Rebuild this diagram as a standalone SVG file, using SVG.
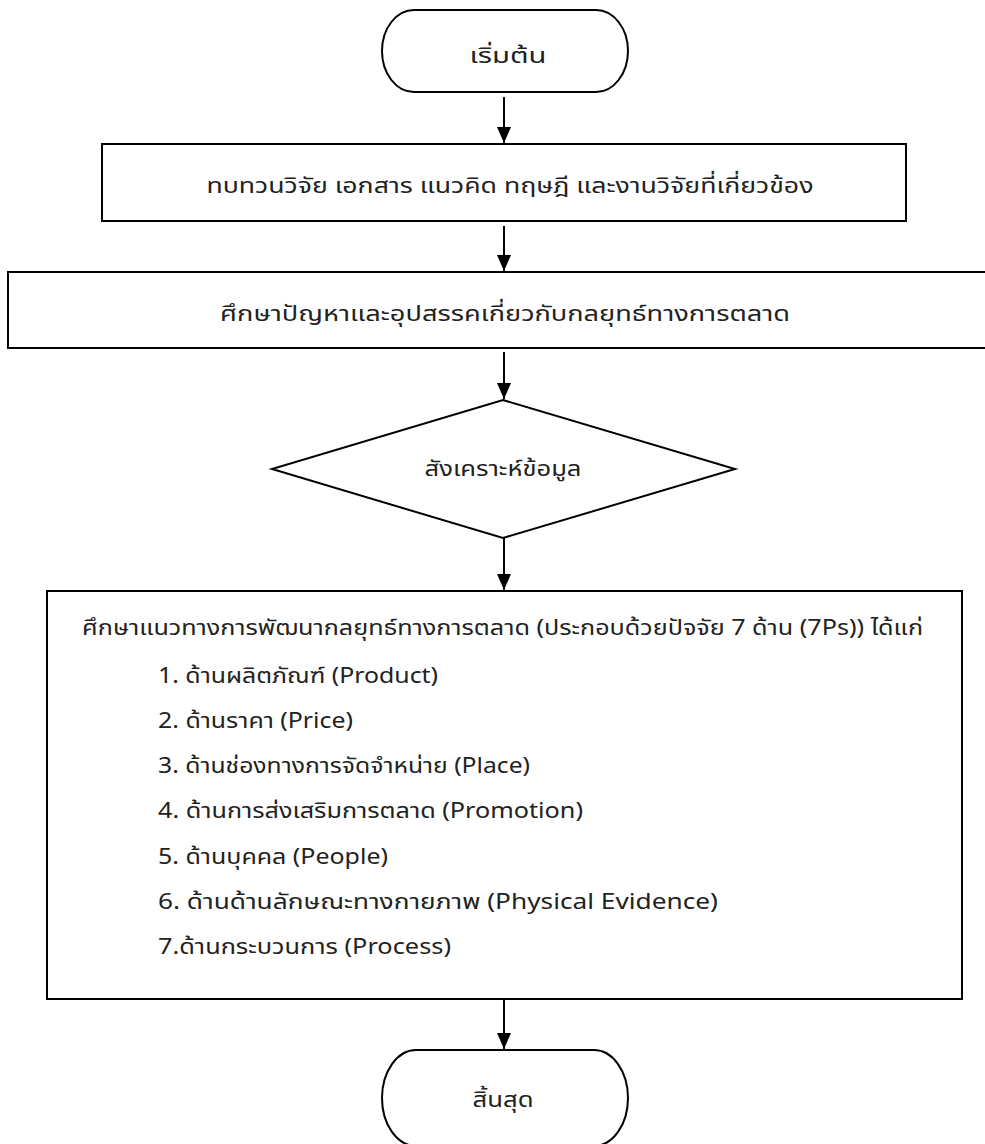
<svg xmlns="http://www.w3.org/2000/svg" width="985" height="1144" viewBox="0 0 985 1144">
<defs>
<marker id="arr" markerWidth="16" markerHeight="14" refX="16" refY="7" orient="auto" markerUnits="userSpaceOnUse" viewBox="0 0 16 14">
<path d="M0,0 L16,7 L0,14 Z" fill="#000"/>
</marker>
</defs>
<style>
.s{fill:#fff;stroke:#000;stroke-width:2}
.t{font-family:"Noto Sans Thai","Leelawadee UI","Tahoma","DejaVu Sans","Noto Sans",sans-serif;font-size:22px;fill:#222}
.c{text-anchor:middle}
.e{stroke:#000;stroke-width:2;fill:none}
</style>
<rect width="985" height="1144" fill="#fff"/>
<g id="start">
<rect class="s" x="382" y="10" width="246" height="82" rx="32" ry="41"/>
<text class="t c" x="508" y="63" textLength="77" lengthAdjust="spacingAndGlyphs">เริ่มต้น</text>
</g>
<g id="review">
<rect class="s" x="102" y="144" width="804" height="77"/>
<text class="t c" x="510" y="193" textLength="607" lengthAdjust="spacingAndGlyphs">ทบทวนวิจัย เอกสาร แนวคิด ทฤษฎี และงานวิจัยที่เกี่ยวข้อง</text>
</g>
<g id="study">
<rect class="s" x="8" y="272" width="990" height="76"/>
<text class="t c" x="505" y="321" textLength="570" lengthAdjust="spacingAndGlyphs">ศึกษาปัญหาและอุปสรรคเกี่ยวกับกลยุทธ์ทางการตลาด</text>
</g>
<g id="synth">
<polygon class="s" points="503,400 735,469 503,538 272,469"/>
<text class="t c" x="503" y="476" textLength="157" lengthAdjust="spacingAndGlyphs">สังเคราะห์ข้อมูล</text>
</g>
<g id="guide">
<rect class="s" x="47" y="591" width="915" height="408"/>
<text class="t" x="82" y="635" textLength="841" lengthAdjust="spacingAndGlyphs">ศึกษาแนวทางการพัฒนากลยุทธ์ทางการตลาด (ประกอบด้วยปัจจัย 7 ด้าน (7Ps)) ได้แก่</text>
<text class="t" x="158" y="683" textLength="280" lengthAdjust="spacingAndGlyphs">1. ด้านผลิตภัณฑ์ (Product)</text>
<text class="t" x="158" y="728" textLength="195" lengthAdjust="spacingAndGlyphs">2. ด้านราคา (Price)</text>
<text class="t" x="158" y="773" textLength="372" lengthAdjust="spacingAndGlyphs">3. ด้านช่องทางการจัดจำหน่าย (Place)</text>
<text class="t" x="158" y="818" textLength="425" lengthAdjust="spacingAndGlyphs">4. ด้านการส่งเสริมการตลาด (Promotion)</text>
<text class="t" x="158" y="864" textLength="230" lengthAdjust="spacingAndGlyphs">5. ด้านบุคคล (People)</text>
<text class="t" x="158" y="909" textLength="560" lengthAdjust="spacingAndGlyphs">6. ด้านด้านลักษณะทางกายภาพ (Physical Evidence)</text>
<text class="t" x="158" y="954" textLength="293" lengthAdjust="spacingAndGlyphs">7.ด้านกระบวนการ (Process)</text>
</g>
<g id="end">
<rect class="s" x="382" y="1050" width="246" height="96" rx="34" ry="48"/>
<text class="t c" x="503" y="1107" textLength="61" lengthAdjust="spacingAndGlyphs">สิ้นสุด</text>
</g>
<g id="connectors">
<line class="e" x1="504" y1="97" x2="504" y2="143" marker-end="url(#arr)"/>
<line class="e" x1="504" y1="226" x2="504" y2="271" marker-end="url(#arr)"/>
<line class="e" x1="504" y1="352" x2="504" y2="399" marker-end="url(#arr)"/>
<line class="e" x1="504" y1="538" x2="504" y2="590" marker-end="url(#arr)"/>
<line class="e" x1="504" y1="999" x2="504" y2="1049" marker-end="url(#arr)"/>
</g>
</svg>
